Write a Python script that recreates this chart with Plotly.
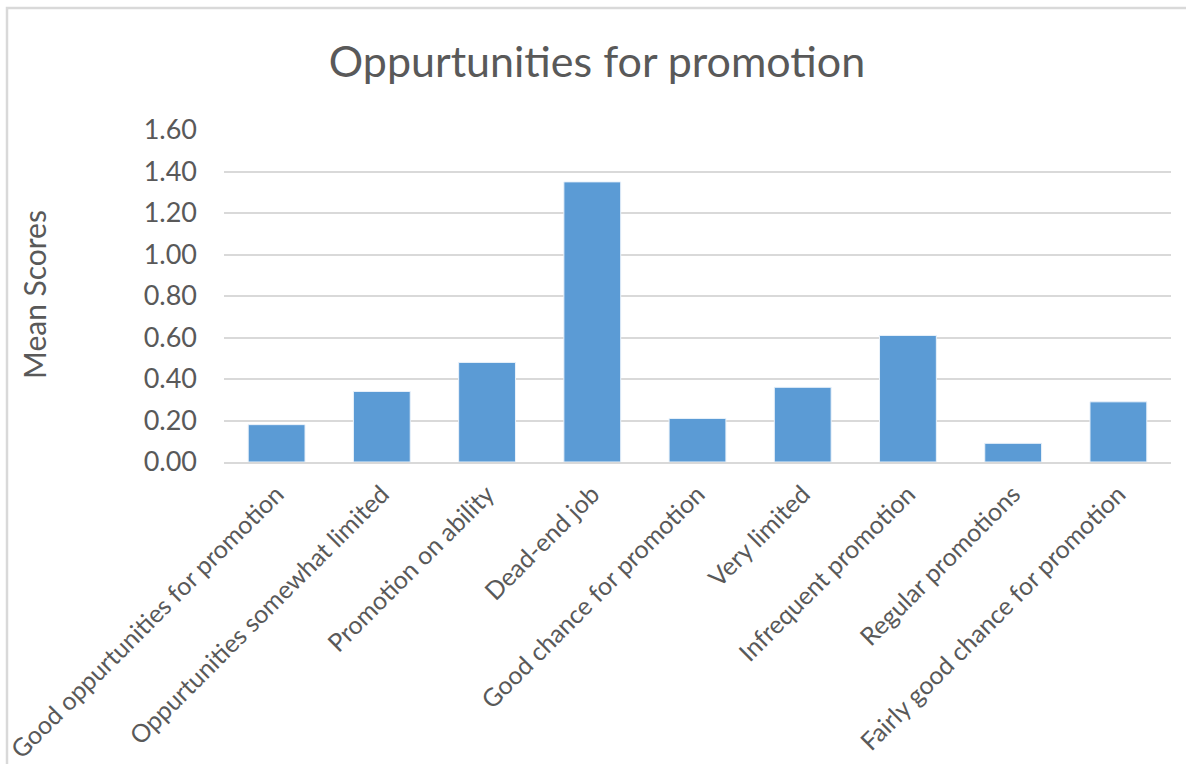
import plotly.graph_objects as go

# Mean score per promotion-related statement
categories = [
    "Good oppurtunities for promotion",
    "Oppurtunities somewhat limited",
    "Promotion on ability",
    "Dead-end job",
    "Good chance for promotion",
    "Very limited",
    "Infrequent promotion",
    "Regular promotions",
    "Fairly good chance for promotion",
]
mean_scores = [0.18, 0.34, 0.48, 1.35, 0.21, 0.36, 0.61, 0.09, 0.29]
y_ticks = [0.0, 0.2, 0.4, 0.6, 0.8, 1.0, 1.2, 1.4, 1.6]
y_tick_labels = [f"{v:.2f}" for v in y_ticks]

FONT = "Lato, 'Open Sans', sans-serif"
TEXT = "#595959"
GRID = "#d9d9d9"
BAR = "#5b9bd5"

W, H = 1186, 764
L, R, T, B = 224, 15, 130, 302
plot_w = W - L - R
plot_h = H - T - B

fig = go.Figure(
    go.Bar(
        x=categories,
        y=mean_scores,
        marker=dict(color=BAR, line=dict(color="#eaf2fa", width=1)),
        hoverinfo="x+y",
    )
)

fig.update_layout(
    width=W,
    height=H,
    margin=dict(l=L, r=R, t=T, b=B, pad=0, autoexpand=False),
    paper_bgcolor="white",
    plot_bgcolor="white",
    bargap=0.46,
    showlegend=False,
    font=dict(family=FONT, color=TEXT),
    title=dict(
        text="Oppurtunities for promotion",
        x=597 / W,
        xref="container",
        xanchor="center",
        y=1 - 62 / H,
        yref="container",
        yanchor="middle",
        font=dict(family=FONT, size=43, color=TEXT),
    ),
    xaxis=dict(
        tickangle=-45,
        tickfont=dict(family=FONT, size=25, color=TEXT),
        showgrid=False,
        showline=True,
        linecolor=GRID,
        linewidth=1.5,
        ticks="",
        ticklabelstandoff=6,
        automargin=False,
    ),
    yaxis=dict(
        range=[0, 1.6],
        tickvals=y_ticks,
        ticktext=y_tick_labels,
        tickfont=dict(family=FONT, size=27, color=TEXT),
        showgrid=True,
        gridcolor=GRID,
        gridwidth=1.5,
        zeroline=False,
        showline=False,
        ticks="",
        ticklabelstandoff=26,
        automargin=False,
    ),
)

# Vertical axis title
fig.add_annotation(
    text="Mean Scores",
    xref="paper",
    yref="paper",
    x=(34 - L) / plot_w,
    y=(H - B - 295) / plot_h,
    xanchor="center",
    yanchor="middle",
    textangle=-90,
    showarrow=False,
    font=dict(family=FONT, size=30, color=TEXT),
)

# Chart-area frame
fig.add_shape(
    type="rect",
    xref="paper",
    yref="paper",
    x0=(7 - L) / plot_w,
    x1=(W + 10 - L) / plot_w,
    y0=(H - B - (H + 10)) / plot_h,
    y1=(H - B - 8) / plot_h,
    line=dict(color=GRID, width=2.5),
    layer="below",
)

fig.write_html("out.html")
